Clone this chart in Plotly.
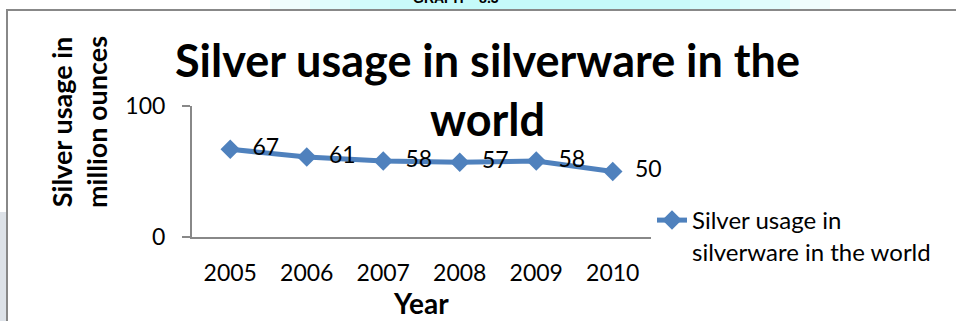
import plotly.graph_objects as go

# Silver usage in silverware, million ounces
years = ["2005", "2006", "2007", "2008", "2009", "2010"]
usage = [67, 61, 58, 57, 58, 50]
series_name = "Silver usage in<br>silverware in the world"
chart_title = "Silver usage in silverware in the<br>world"
y_title = "Silver usage in<br>million ounces"
x_title = "Year"
y_ticks = [0, 100]

W, H = 956, 321
FONT = "Lato"
BLUE = "#4F81BD"
PW, PH = 459, 131  # plot area size in px


def px_x(x):
    return (x - 192) / PW


def px_y(y):
    return (237 - y) / PH


fig = go.Figure()
fig.add_trace(go.Scatter(
    x=years, y=usage, name=series_name,
    mode="lines+markers+text",
    text=["\u00a0\u00a0" + str(v) for v in usage],
    textposition="middle right",
    textfont=dict(family=FONT, size=23, color="#000"),
    line=dict(color=BLUE, width=5),
    marker=dict(symbol="diamond", size=15, color=BLUE),
    cliponaxis=False,
))

fig.update_layout(
    width=W, height=H,
    margin=dict(l=192, r=W - 651, t=106, b=H - 237),
    paper_bgcolor="white", plot_bgcolor="white",
    font=dict(family=FONT, color="#000"),
    showlegend=True,
    legend=dict(x=px_x(652), y=px_y(198), valign="top",
                xanchor="left", yanchor="top",
                font=dict(family=FONT, size=24, color="#000"),
                bgcolor="rgba(0,0,0,0)", itemwidth=30, tracegroupgap=0),
    xaxis=dict(type="category", showgrid=False, showline=True, linecolor="#888",
               linewidth=2, ticks="", tickfont=dict(family=FONT, size=23),
               ticklabelstandoff=14, range=[-0.5, 5.5], zeroline=False),
    yaxis=dict(range=[0, 100], tickvals=y_ticks, showgrid=True, gridcolor="#888",
               gridwidth=2, showline=True, linecolor="#888", linewidth=2,
               ticks="outside", ticklen=8, tickcolor="#888", tickwidth=2,
               ticklabelstandoff=12,
               tickfont=dict(family=FONT, size=23), zeroline=False),
)

# chart title
fig.add_annotation(text="<b>" + chart_title + "</b>", xref="paper", yref="paper",
                   x=px_x(487), y=px_y(31), xanchor="center",
                   yanchor="top", showarrow=False, align="center",
                   font=dict(family=FONT, size=45, color="#000"))
# axis titles
fig.add_annotation(text="<b>" + y_title + "</b>", xref="paper", yref="paper",
                   x=px_x(79), y=px_y(122), xanchor="center",
                   yanchor="middle", textangle=-90, showarrow=False, align="center",
                   font=dict(family=FONT, size=27, color="#000"))
fig.add_annotation(text="<b>" + x_title + "</b>", xref="paper", yref="paper",
                   x=px_x(421), y=px_y(303), xanchor="center",
                   yanchor="middle", showarrow=False,
                   font=dict(family=FONT, size=28, color="#000"))

# heading strip above the frame: soft cyan band fading out to the sides
bands = [(270, 830, 0.25), (310, 790, 0.35), (350, 740, 0.5), (390, 690, 0.7),
         (420, 640, 0.9)]
for x0, x1, op in bands:
    fig.add_shape(type="rect", xref="paper", yref="paper", layer="below",
                  x0=px_x(x0), x1=px_x(x1), y0=px_y(9), y1=px_y(0),
                  fillcolor="#c4f9f9", opacity=op, line=dict(width=0))
# grey margin strip at the left of the page
fig.add_shape(type="rect", xref="paper", yref="paper", layer="below",
              x0=px_x(0), x1=px_x(6), y0=px_y(H), y1=px_y(212),
              fillcolor="#dde2e8", line=dict(width=0))
# page frame around the chart
fig.add_shape(type="rect", xref="paper", yref="paper",
              x0=px_x(7), x1=px_x(W + 5), y0=px_y(H + 5), y1=px_y(10),
              line=dict(color="#888", width=2))
fig.add_annotation(text="<b>GRAPH – 8.3</b>", xref="paper", yref="paper",
                   x=px_x(456), y=px_y(8), xanchor="center",
                   yanchor="bottom", showarrow=False,
                   font=dict(family="Liberation Sans", size=14, color="#000"))

fig.write_html("out.html")
